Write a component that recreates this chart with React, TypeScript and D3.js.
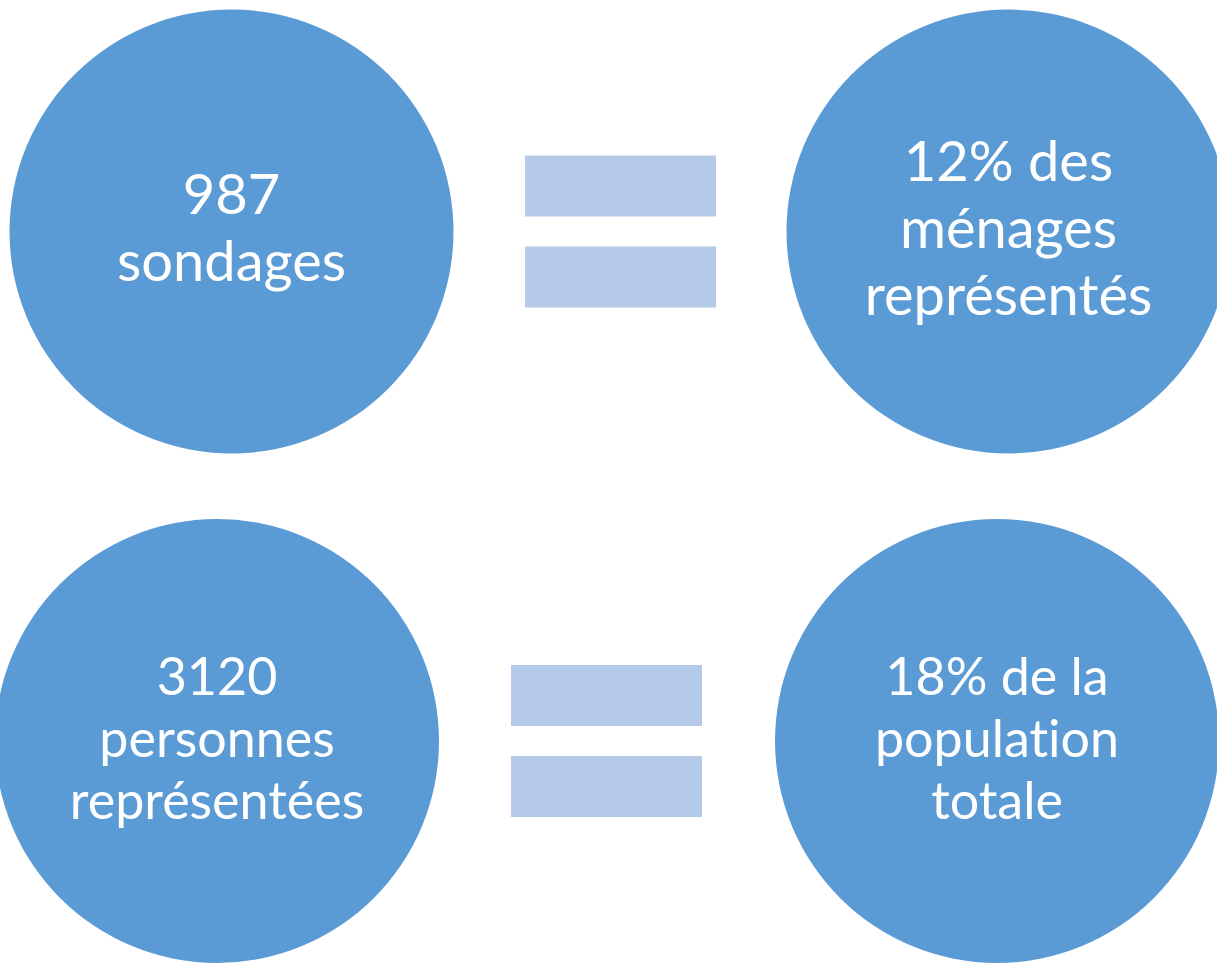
import React from "react";
import * as d3 from "d3";

// left-hand circles (counts) and right-hand circles (shares), one entry per row
const leftLabels: string[][] = [
  ["987", "sondages"],
  ["3120", "personnes", "représentées"],
];
const rightLabels: string[][] = [
  ["12% des", "ménages", "représentés"],
  ["18% de la", "population", "totale"],
];
const rowFontSizes = [56, 52];
const rowLineHeights = [67, 62];

const W = 1217;
const H = 963;
const R = 222;
const circleColor = "#5b9bd5";
const barColor = "#b5cae8";

// per-row geometry (the reference slides are not perfectly aligned)
const rowY = d3.scaleOrdinal<number, number>().domain([0, 1]).range([231.5, 741]);
const leftX = d3.scaleOrdinal<number, number>().domain([0, 1]).range([231.5, 217]);
const rightX = d3.scaleOrdinal<number, number>().domain([0, 1]).range([1008.5, 997]);
const eqX = d3.scaleOrdinal<number, number>().domain([0, 1]).range([525, 511]);
const eqW = 191;
const eqH = 61;
const eqGap = 30;

function Label({ lines, cx, cy, size, lh }: {
  lines: string[]; cx: number; cy: number; size: number; lh: number;
}) {
  const n = lines.length;
  return (
    <text
      x={cx}
      textAnchor="middle"
      fill="#fff"
      fontFamily="Lato, 'Open Sans', sans-serif"
      fontSize={size}
      style={{ fontVariantLigatures: "none", fontFeatureSettings: "'liga' 0, 'dlig' 0" }}
    >
      {lines.map((l, i) => (
        <tspan key={i} x={cx} y={cy + (i - (n - 1) / 2) * lh + 16}>
          {l}
        </tspan>
      ))}
    </text>
  );
}

export default function App() {
  return (
    <div style={{ position: "absolute", left: 0, top: 0 }}>
      <svg width={W} height={H} style={{ display: "block", background: "#fff" }}>
        {leftLabels.map((_, row) => {
          const cy = rowY(row);
          const size = rowFontSizes[row];
          const lh = rowLineHeights[row];
          return (
            <g key={row}>
              <circle cx={leftX(row)} cy={cy} r={R} fill={circleColor} />
              <circle cx={rightX(row)} cy={cy} r={R} fill={circleColor} />
              <rect x={eqX(row)} y={cy - eqGap / 2 - eqH} width={eqW} height={eqH} fill={barColor} />
              <rect x={eqX(row)} y={cy + eqGap / 2} width={eqW} height={eqH} fill={barColor} />
              <Label lines={leftLabels[row]} cx={leftX(row)} cy={cy} size={size} lh={lh} />
              <Label lines={rightLabels[row]} cx={rightX(row)} cy={cy} size={size} lh={lh} />
            </g>
          );
        })}
      </svg>
    </div>
  );
}
